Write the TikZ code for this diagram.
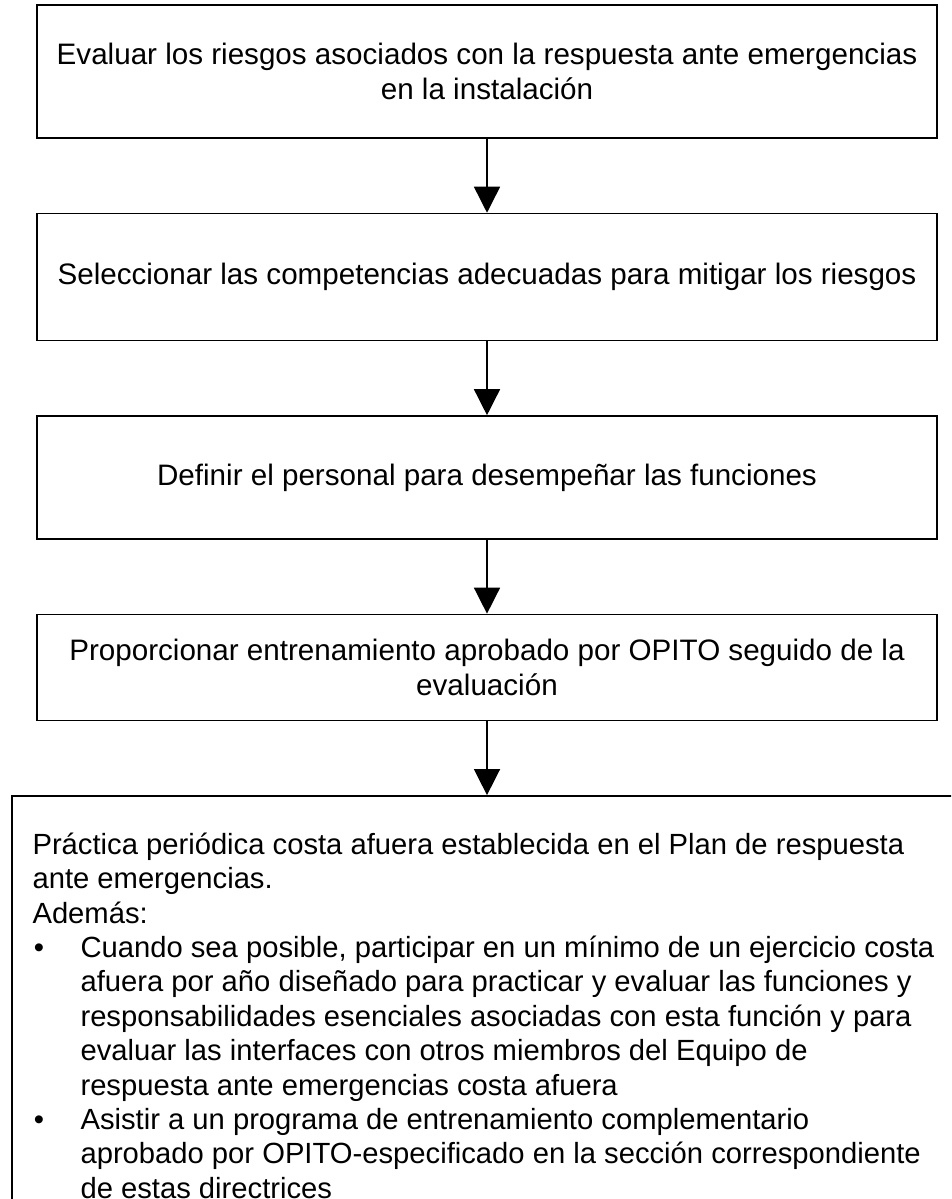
\documentclass[tikz,border=0pt]{standalone}
\usepackage{fontspec}
\setmainfont{Liberation Sans}
\usetikzlibrary{positioning,arrows.meta}

\tikzset{
  stepbox/.style={draw,line width=1.1pt,minimum width=675pt,align=center,
    font=\fontsize{22.2}{26.5}\selectfont},
  flow/.style={draw,line width=1.1pt,-{Triangle[length=19.5pt,width=19.5pt]}}
}
\newcommand{\bul}{\makebox[36pt][l]{\hspace{1pt}\textbullet}}
\newcommand{\hang}{\hspace*{36pt}}

\begin{document}
\begin{tikzpicture}[x=0.75pt,y=-0.75pt,node distance=55.5pt]
  \clip (0,0) rectangle (951,1199);
  \node(risk)[stepbox,minimum height=99.75pt] at (487,71.5)
    {Evaluar los riesgos asociados con la respuesta ante emergencias\\en la instalación};
  \node(skill)[stepbox,minimum height=95.25pt,below=of risk]
    {Seleccionar las competencias adecuadas para mitigar los riesgos};
  \node(staff)[stepbox,minimum height=92.25pt,below=of skill]
    {Definir el personal para desempeñar las funciones};
  \node(train)[stepbox,minimum height=79.5pt,below=of staff]
    {Proporcionar entrenamiento aprobado por OPITO seguido de la\\evaluación};
  \node(drill)[draw,line width=1.1pt,minimum width=712.5pt,minimum height=330pt,
    below=of train] {};
  \node(drilltext)[anchor=north west,align=left,inner sep=0pt,
    font=\fontsize{21.9}{25.8}\selectfont] at ([xshift=15.75pt,yshift=-28pt]drill.north west)
    {Práctica periódica costa afuera establecida en el Plan de respuesta\\
     ante emergencias.\\
     Además:\\
     \bul Cuando sea posible, participar en un mínimo de un ejercicio costa\\
     \hang afuera por año diseñado para practicar y evaluar las funciones y\\
     \hang responsabilidades esenciales asociadas con esta función y para\\
     \hang evaluar las interfaces con otros miembros del Equipo de\\
     \hang respuesta ante emergencias costa afuera\\
     \bul Asistir a un programa de entrenamiento complementario\\
     \hang aprobado por OPITO-especificado en la sección correspondiente\\
     \hang de estas directrices};
  \draw[flow] (risk) -- (skill);
  \draw[flow] (skill) -- (staff);
  \draw[flow] (staff) -- (train);
  \draw[flow] (train) -- (drill);
\end{tikzpicture}
\end{document}
